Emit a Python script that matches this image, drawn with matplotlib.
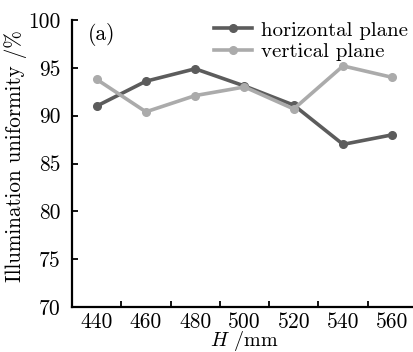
import matplotlib
matplotlib.use("Agg")
import matplotlib.pyplot as plt

categories = ["440", "460", "480", "500", "520", "540", "560"]
horizontal = [91.0, 93.6, 94.9, 93.1, 91.1, 87.0, 88.0]
vertical = [93.8, 90.4, 92.1, 93.0, 90.7, 95.2, 94.0]
yticks = [70, 75, 80, 85, 90, 95, 100]

plt.rcParams['font.family'] = ['cmr10', 'DejaVu Serif']
plt.rcParams['mathtext.fontset'] = 'cm'
plt.rcParams['axes.formatter.use_mathtext'] = True

W, H = 414, 352
fig = plt.figure(figsize=(W / 100, H / 100), dpi=100)
ax = fig.add_axes([72 / W, 1 - 307 / H, (417 - 72) / W, (307 - 20) / H])

x = list(range(len(categories)))
ax.plot(x, horizontal, color='#5c5c5c', lw=2.6, marker='o', ms=5.5, label='horizontal plane')
ax.plot(x, vertical, color='#ababab', lw=2.6, marker='o', ms=5.5, label='vertical plane')

ax.set_xlim(-0.5, len(categories) - 0.5)
ax.set_ylim(70, 100)
ax.set_yticks(yticks)
ax.set_yticklabels([str(v) for v in yticks])
ax.set_xticks(x)
ax.set_xticklabels(categories)
ax.set_xticks([i + 0.5 for i in x[:-1]], minor=True)
ax.tick_params(axis='x', which='major', length=0, labelsize=15.5, pad=4)
ax.tick_params(axis='x', which='minor', direction='in', length=4, width=1.3)
ax.tick_params(axis='y', direction='in', length=4, width=1.3, labelsize=15.5, pad=8)
for s in ['top', 'right']:
    ax.spines[s].set_visible(False)
for s in ['left', 'bottom']:
    ax.spines[s].set_linewidth(1.6)

ax.set_xlabel(r'$H$ /mm', fontsize=14.5, labelpad=-2)
ax.set_ylabel('Illumination uniformity /%', fontsize=15.2)
ax.yaxis.set_label_coords(-0.13, 0.526)
ax.text(0.045, 0.99, '(a)', transform=ax.transAxes, fontsize=15.5, va='top', ha='left')

ax.legend(loc='upper left', bbox_to_anchor=(0.375, 1.04), frameon=False, fontsize=15,
          handlelength=1.85, handletextpad=0.4, labelspacing=0.15, borderpad=0.1)

fig.savefig('out.png', dpi=100)
